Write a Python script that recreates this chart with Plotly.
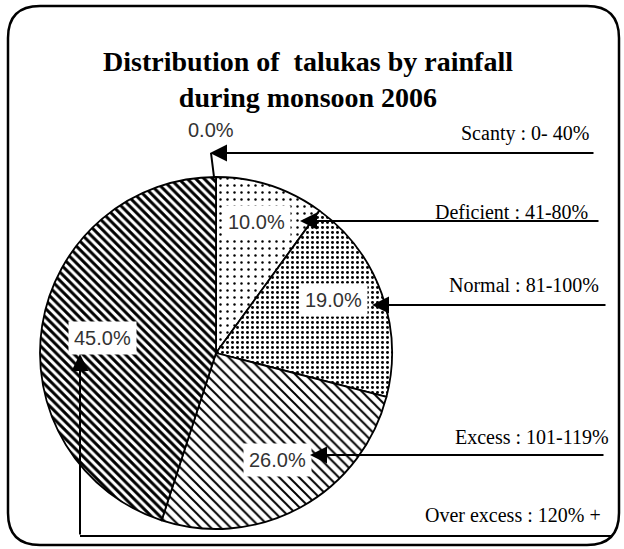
import plotly.graph_objects as go

# Rainfall classes (share of talukas, %)
categories = ["Scanty : 0- 40%", "Deficient : 41-80%", "Normal : 81-100%",
              "Excess : 101-119%", "Over excess : 120% +"]
shares = [0.0, 10.0, 19.0, 26.0, 45.0]
pct_labels = [f"{v:.1f}%" for v in shares]

W, H = 624, 549
# pie geometry in pixels
CX, CY, R = 216, 353, 176

fig = go.Figure()

fig.add_trace(go.Pie(
    labels=categories,
    values=shares,
    sort=False,
    direction="clockwise",
    rotation=0,
    textinfo="none",
    hoverinfo="label+percent",
    showlegend=False,
    domain=dict(x=[(CX - R) / W, (CX + R) / W],
                y=[1 - (CY + R) / H, 1 - (CY - R) / H]),
    marker=dict(
        colors=["white"] * 5,
        line=dict(color="black", width=1.8),
        pattern=dict(
            shape=["", ".", ".", "\\", "\\"],
            size=[6, 7, 5, 7, 6],
            solidity=[0.2, 0.1, 0.28, 0.28, 0.5],
            fgcolor="black",
            bgcolor="white",
        ),
    ),
))

# invisible pixel-space axes for annotations and shapes
fig.update_xaxes(range=[0, W], visible=False, fixedrange=True)
fig.update_yaxes(range=[H, 0], visible=False, fixedrange=True)
fig.add_trace(go.Scatter(x=[0], y=[0], mode="markers",
                         marker=dict(opacity=0), showlegend=False, hoverinfo="skip"))

# percentage labels placed on each slice
label_pos = [(211, 130), (256, 222), (333, 300), (277, 460), (102, 338)]
for txt, (x, y), v in zip(pct_labels, label_pos, shares):
    fig.add_annotation(
        x=x, y=y, xref="x", yref="y", text=txt, showarrow=False,
        font=dict(family="Liberation Sans, Arial", size=20, color="#333333"),
        bgcolor="white" if v > 0 else "rgba(0,0,0,0)",
        borderpad=5,
    )

# category text at right
cat_pos = [(591, 133), (590, 212), (601, 285), (611, 437), (603, 515)]
for txt, (x, y) in zip(categories, cat_pos):
    fig.add_annotation(
        x=x, y=y, xref="x", yref="y", text=txt, showarrow=False,
        xanchor="right",
        font=dict(family="Liberation Serif, Times New Roman", size=20, color="black"),
    )

# leader arrows: (head x, head y, tail x, tail y)
arrows = [(210, 153, 595, 153), (300, 221, 600, 221), (372, 305, 607, 305),
          (310, 455, 605, 455), (80, 354, 80, 536)]
for hx, hy, tx, ty in arrows:
    fig.add_annotation(
        x=hx, y=hy, ax=tx, ay=ty, xref="x", yref="y", axref="x", ayref="y",
        text="", showarrow=True, arrowhead=2, arrowsize=1.7, arrowwidth=2,
        arrowcolor="black",
    )

shapes = [
    # short tick from the arrow tip down to the pie top
    dict(type="line", x0=211, y0=153, x1=214, y1=CY - R),
    # base line of the "over excess" leader
    dict(type="line", x0=80, y0=536, x1=612, y1=536),
]
for s in shapes:
    fig.add_shape(xref="x", yref="y", line=dict(color="black", width=2), **s)

# rounded frame
x0, y0, x1, y1, rr = 8, 6, 619, 545, 32
frame = (f"M {x0+rr},{y0} L {x1-rr},{y0} Q {x1},{y0} {x1},{y0+rr} "
         f"L {x1},{y1-rr} Q {x1},{y1} {x1-rr},{y1} L {x0+rr},{y1} "
         f"Q {x0},{y1} {x0},{y1-rr} L {x0},{y0+rr} Q {x0},{y0} {x0+rr},{y0} Z")
fig.add_shape(type="path", path=frame, xref="x", yref="y",
              line=dict(color="black", width=2.5))

# title
fig.add_annotation(
    x=308, y=79, xref="x", yref="y", showarrow=False,
    text="<b>Distribution of  talukas by rainfall<br>during monsoon 2006</b>",
    font=dict(family="Liberation Serif, Times New Roman", size=28, color="black"),
)

fig.update_layout(
    width=W, height=H,
    margin=dict(l=0, r=0, t=0, b=0),
    paper_bgcolor="white", plot_bgcolor="white",
)

fig.write_html("out.html")
